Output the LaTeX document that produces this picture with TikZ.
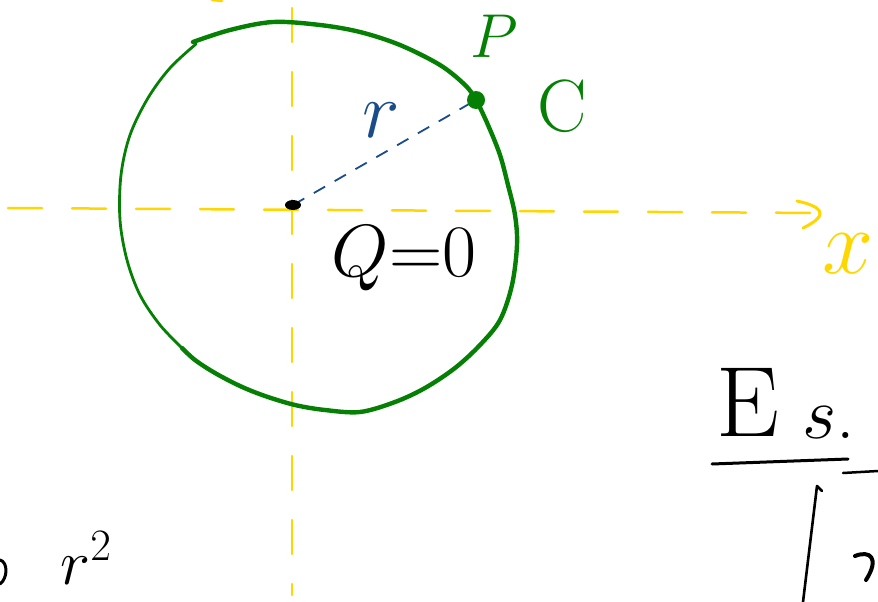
\RequirePackage{fix-cm}
\documentclass[tikz,border=0pt]{standalone}
\usetikzlibrary{arrows.meta}
\definecolor{axisyellow}{HTML}{FFD700}
\definecolor{ringgreen}{HTML}{058005}
\definecolor{radblue}{HTML}{1A4C8A}
\tikzset{
  axis/.style={axisyellow, line width=2.5pt, line cap=round, dash pattern=on 34pt off 30pt},
  ring/.style={ringgreen, line cap=round, line join=round, smooth, tension=0.55},
  ink/.style={inner sep=0pt, font=\fontsize{#1}{#1}\selectfont},
  pen/.style={line width=#1, line cap=round, line join=round},
}
\begin{document}
\begin{tikzpicture}[x=1pt, y=-1pt]
\clip (0,0) rectangle (878,602);

\coordinate (X1) at (8,208);
\coordinate (X2) at (822,213);
\coordinate (Y1) at (292,0);
\coordinate (Y2) at (292,595);
\coordinate (O) at (293,205);
\coordinate (P) at (476,100);

\draw[axis] (X1) -- (X2);
\draw[axisyellow, pen=3pt] (797,201) .. controls (820,206) and (832,214) .. (803,228);
\draw[axis, dash phase=-8pt] (Y1) -- (Y2);
\draw[axisyellow, pen=2.5pt] (212,0) -- (222,1);

\draw[ring, line width=4.4pt] plot coordinates {(193,42) (230,30) (273,22) (320,25) (360,32) (400,45)
  (440,65) (465,85) (476,100) (488,125) (500,155) (508,185) (515,215) (517,245) (512,285) (500,320)
  (480,345) (455,368) (425,388) (395,402) (360,412) (325,410) (295,405) (265,396) (240,386)
  (215,373) (195,360) (182,348)};
\draw[ring, line width=2.8pt] plot coordinates {(182,348) (160,325) (140,295) (127,260) (120,220)
  (121,175) (130,135) (148,98) (170,68) (196,44)};

\draw[radblue, line width=1.8pt, dash pattern=on 13pt off 11pt] (O) -- (P);
\fill (O) ellipse (8pt and 5pt);
\fill[ringgreen] (P) circle (9pt);

\node[ink=62, ringgreen] (Plab) at (494,36) {$P$};
\node[ink=74, ringgreen] (Clab) at (562,106) {C};
\node[ink=80, radblue] (rlab) at (381,120) {$r$};
\node[ink=74] (Qlab) at (404,258) {$Q{=}0$};
\node[ink=92, axisyellow] (xlab) at (848,254) {$x$};

\node[ink=100, anchor=base west] (Elab) at (716,436) {E};
\node[ink=74, anchor=base west] (slab) at (802,438) {$s$.};
\draw[pen=3pt] (712,464) -- (848,459);
\draw[pen=2.5pt] (843,473) -- (878,471);
\coordinate (B1) at (803,602);
\coordinate (B2) at (817,486);
\draw[pen=2.6pt] (B1) -- (B2) -- (822,491);
\draw[pen=4pt] (855,556) .. controls (870,550) and (880,558) .. (866,580);

\node[ink=64] (r2lab) at (86,558) {$r^{2}$};
\draw[pen=3pt] (0,560) .. controls (8,562) and (8,578) .. (0,584);
\end{tikzpicture}
\end{document}
